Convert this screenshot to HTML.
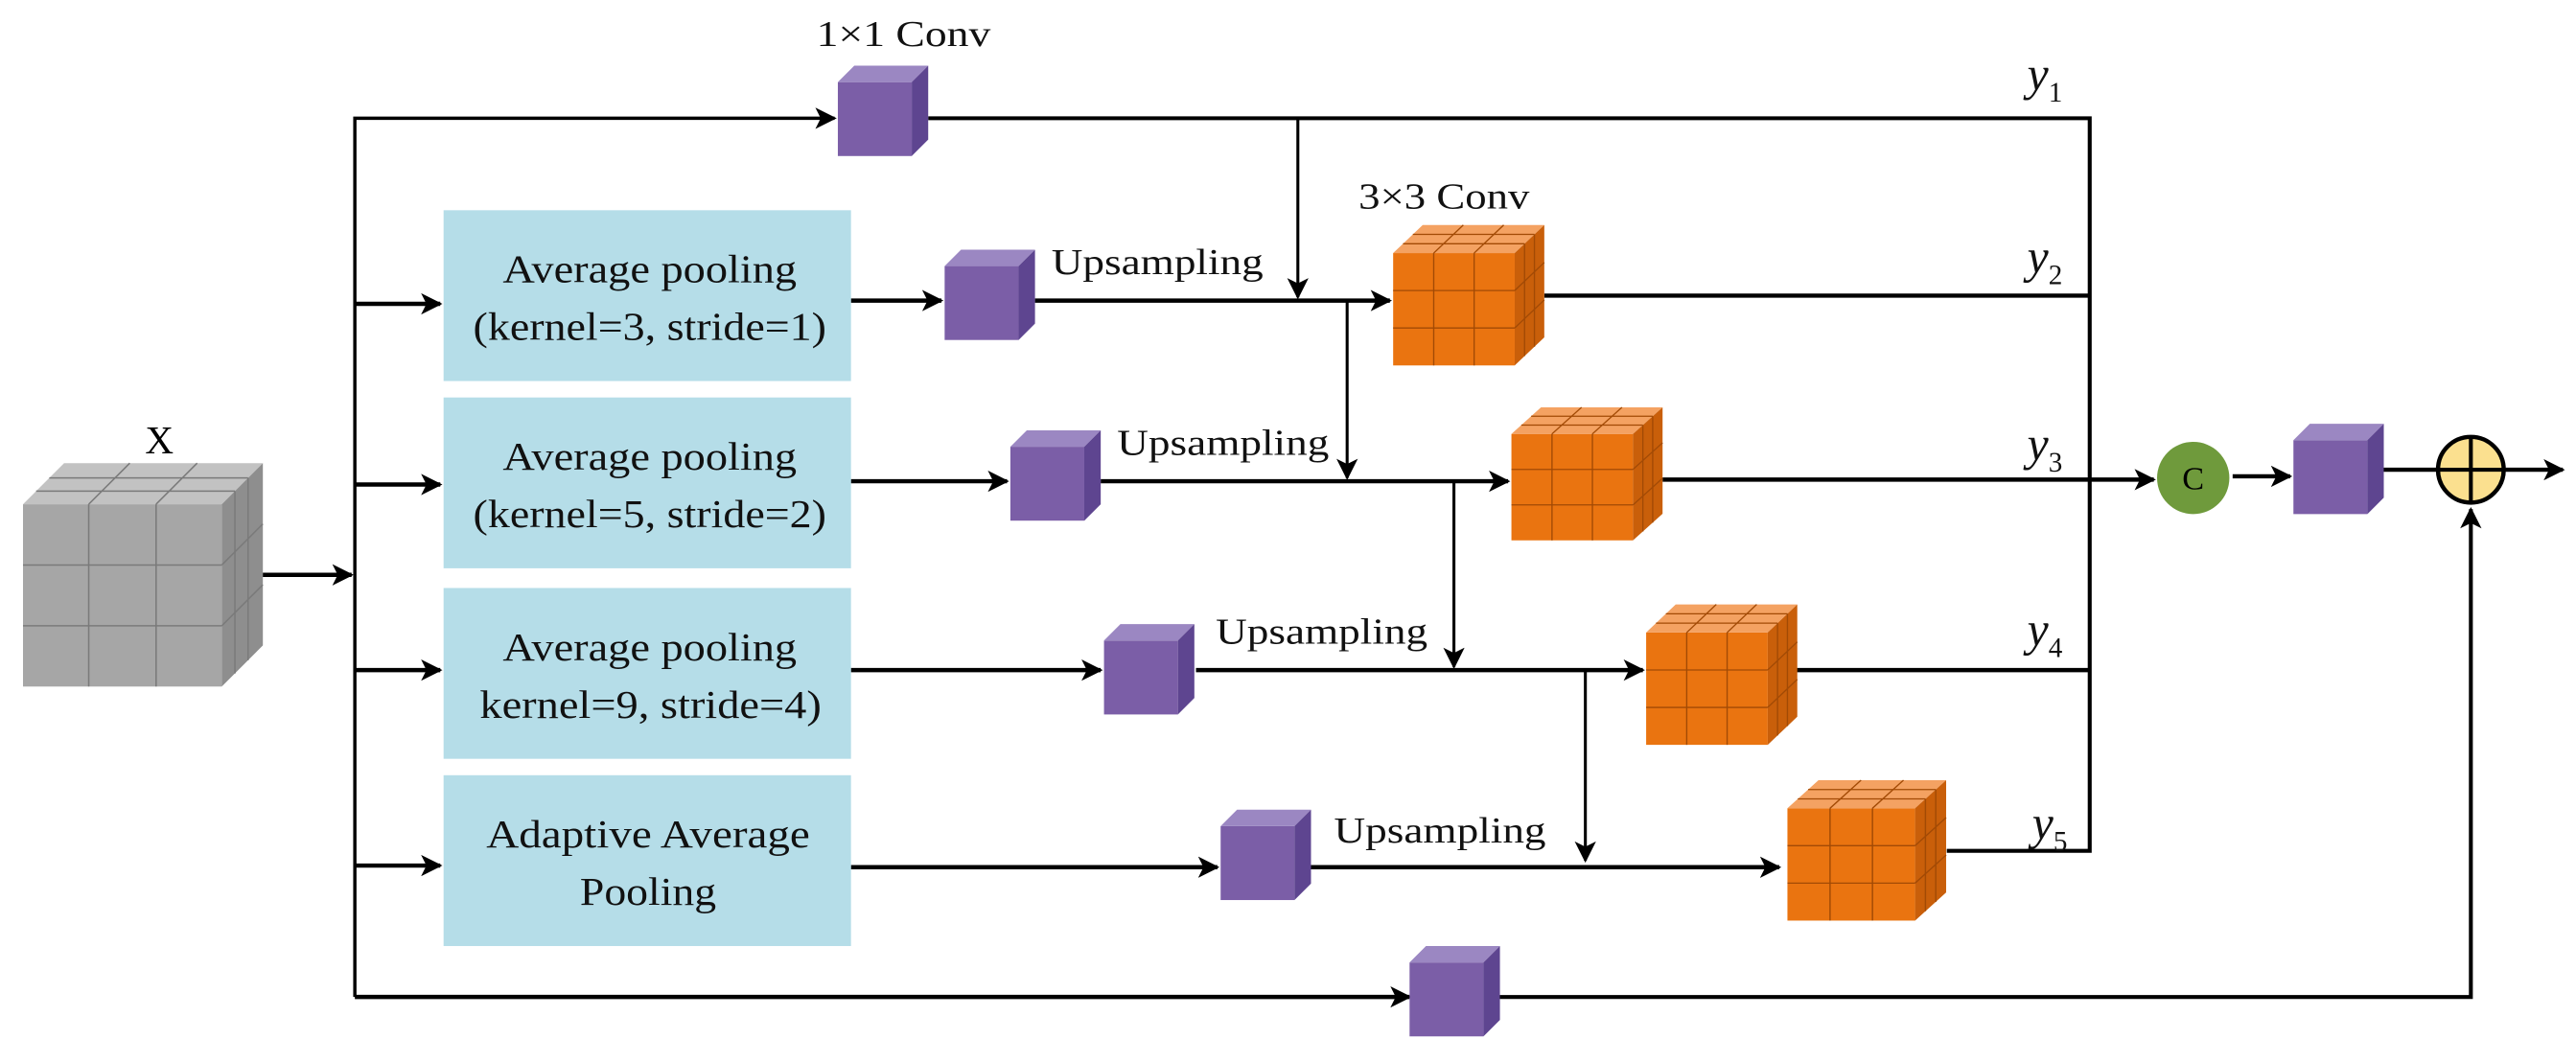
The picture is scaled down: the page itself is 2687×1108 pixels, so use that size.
<!DOCTYPE html>
<html><head><meta charset="utf-8"><style>html,body{margin:0;padding:0;background:#fff}svg{display:block}</style></head>
<body>
<svg width="2687" height="1108" viewBox="0 0 1568 646.6" preserveAspectRatio="none" xmlns="http://www.w3.org/2000/svg" font-family="Liberation Serif, serif">
<defs>
<marker id="b" viewBox="0 0 10 10" refX="9" refY="5" markerWidth="13" markerHeight="13" orient="auto" markerUnits="userSpaceOnUse"><path d="M0,0 L10,5 L0,10 L2.5,5 z" fill="#000"/></marker>
<g id="pc">
<rect x="0" y="10" width="45" height="45" fill="#7b5ea7"/>
<polygon points="0,10 10,0 55,0 45,10" fill="#9b87c2"/>
<polygon points="45,10 55,0 55,45 45,55" fill="#5e4590"/>
</g>
<g id="oc">
<rect x="0" y="18" width="74" height="72" fill="#ea7410"/>
<polygon points="0,18 18,0 92,0 74,18" fill="#f4a262"/>
<polygon points="74,18 92,0 92,72 74,90" fill="#c95f0a"/>
<g stroke="#a24a05" stroke-width="0.8" fill="none">
<line x1="24.7" y1="18" x2="24.7" y2="90"/><line x1="49.3" y1="18" x2="49.3" y2="90"/>
<line x1="0" y1="42" x2="74" y2="42"/><line x1="0" y1="66" x2="74" y2="66"/>
<line x1="6" y1="12" x2="80" y2="12"/><line x1="12" y1="6" x2="86" y2="6"/>
<line x1="24.7" y1="18" x2="42.7" y2="0"/><line x1="49.3" y1="18" x2="67.3" y2="0"/>
<line x1="80" y1="12" x2="80" y2="84"/><line x1="86" y1="6" x2="86" y2="78"/>
<line x1="74" y1="42" x2="92" y2="24"/><line x1="74" y1="66" x2="92" y2="48"/>
</g>
</g>
</defs>

<!-- X cube -->
<text x="97" y="276" font-size="24" text-anchor="middle">X</text>
<rect x="14" y="307" width="121" height="111" fill="#a6a6a6"/>
<polygon points="14,307 39,282 160,282 135,307" fill="#c2c2c2"/>
<polygon points="135,307 160,282 160,393 135,418" fill="#8e8e8e"/>
<g stroke="#7a7a7a" stroke-width="0.9" fill="none">
<line x1="54" y1="307" x2="54" y2="418"/><line x1="95" y1="307" x2="95" y2="418"/>
<line x1="14" y1="344" x2="135" y2="344"/><line x1="14" y1="381" x2="135" y2="381"/>
<line x1="22" y1="299" x2="143" y2="299"/><line x1="30" y1="291" x2="151" y2="291"/>
<line x1="54" y1="307" x2="79" y2="282"/><line x1="95" y1="307" x2="120" y2="282"/>
<line x1="143" y1="299" x2="143" y2="410"/><line x1="151" y1="291" x2="151" y2="402"/>
<line x1="135" y1="344" x2="160" y2="319"/><line x1="135" y1="381" x2="160" y2="356"/>
</g>

<g stroke="#000" fill="none">
<line x1="160" y1="350" x2="214" y2="350" stroke-width="2.6" marker-end="url(#b)"/>
<path d="M216,607 L216,72 L508,72" stroke-width="2" marker-end="url(#b)"/>
<line x1="216" y1="185" x2="268" y2="185" stroke-width="2.6" marker-end="url(#b)"/>
<line x1="216" y1="295" x2="268" y2="295" stroke-width="2.6" marker-end="url(#b)"/>
<line x1="216" y1="408" x2="268" y2="408" stroke-width="2.6" marker-end="url(#b)"/>
<line x1="216" y1="527" x2="268" y2="527" stroke-width="2.6" marker-end="url(#b)"/>
<path d="M565,72 L1272,72 L1272,518 L1185,518" stroke-width="2.4"/>
<line x1="790" y1="72" x2="790" y2="181" stroke-width="1.8" marker-end="url(#b)"/>
<line x1="518" y1="183" x2="573" y2="183" stroke-width="2.6" marker-end="url(#b)"/>
<line x1="630" y1="183" x2="846" y2="183" stroke-width="2.6" marker-end="url(#b)"/>
<line x1="940" y1="180" x2="1272" y2="180" stroke-width="2.6"/>
<line x1="820" y1="183" x2="820" y2="291" stroke-width="1.8" marker-end="url(#b)"/>
<line x1="518" y1="293" x2="613" y2="293" stroke-width="2.6" marker-end="url(#b)"/>
<line x1="670" y1="293" x2="918" y2="293" stroke-width="2.6" marker-end="url(#b)"/>
<line x1="1012" y1="292" x2="1311" y2="292" stroke-width="2.6" marker-end="url(#b)"/>
<line x1="885" y1="293" x2="885" y2="406" stroke-width="1.8" marker-end="url(#b)"/>
<line x1="518" y1="408" x2="670" y2="408" stroke-width="2.6" marker-end="url(#b)"/>
<line x1="728" y1="408" x2="1000" y2="408" stroke-width="2.6" marker-end="url(#b)"/>
<line x1="1093" y1="408" x2="1272" y2="408" stroke-width="2.6"/>
<line x1="965" y1="408" x2="965" y2="524" stroke-width="1.8" marker-end="url(#b)"/>
<line x1="518" y1="528" x2="741" y2="528" stroke-width="2.6" marker-end="url(#b)"/>
<line x1="798" y1="528" x2="1083" y2="528" stroke-width="2.6" marker-end="url(#b)"/>
<line x1="216" y1="607" x2="858" y2="607" stroke-width="2.6" marker-end="url(#b)"/>
<path d="M912,607 L1504,607 L1504,310" stroke-width="2.4" marker-end="url(#b)"/>
<line x1="1359" y1="290" x2="1394" y2="290" stroke-width="2.6" marker-end="url(#b)"/>
<line x1="1449" y1="286" x2="1483" y2="286" stroke-width="2.6"/>
<line x1="1525" y1="286" x2="1560" y2="286" stroke-width="2.6" marker-end="url(#b)"/>
</g>

<g fill="#b5dde8">
<rect x="270" y="128" width="248" height="104"/>
<rect x="270" y="242" width="248" height="104"/>
<rect x="270" y="358" width="248" height="104"/>
<rect x="270" y="472" width="248" height="104"/>
</g>
<g font-size="24" fill="#111" lengthAdjust="spacingAndGlyphs">
<text x="306" y="172" textLength="179" lengthAdjust="spacingAndGlyphs">Average pooling</text>
<text x="288" y="207" textLength="215" lengthAdjust="spacingAndGlyphs">(kernel=3, stride=1)</text>
<text x="306" y="286" textLength="179" lengthAdjust="spacingAndGlyphs">Average pooling</text>
<text x="288" y="321" textLength="215" lengthAdjust="spacingAndGlyphs">(kernel=5, stride=2)</text>
<text x="306" y="402" textLength="179" lengthAdjust="spacingAndGlyphs">Average pooling</text>
<text x="292" y="437" textLength="208" lengthAdjust="spacingAndGlyphs">kernel=9, stride=4)</text>
<text x="296" y="516" textLength="197" lengthAdjust="spacingAndGlyphs">Adaptive Average</text>
<text x="353" y="551" textLength="83" lengthAdjust="spacingAndGlyphs">Pooling</text>
</g>

<use href="#pc" transform="translate(510,40)"/>
<use href="#pc" transform="translate(575,152)"/>
<use href="#pc" transform="translate(615,262)"/>
<use href="#pc" transform="translate(672,380)"/>
<use href="#pc" transform="translate(743,493)"/>
<use href="#pc" transform="translate(858,576)"/>
<use href="#pc" transform="translate(1396,258)"/>

<use href="#oc" transform="translate(848,137) scale(1,0.95)"/>
<use href="#oc" transform="translate(920,248) scale(1,0.9)"/>
<use href="#oc" transform="translate(1002,368) scale(1,0.95)"/>
<use href="#oc" transform="translate(1088,475) scale(1.05,0.95)"/>

<circle cx="1335" cy="291" r="22" fill="#6f9a3c"/>
<text x="1335" y="298" font-size="20" text-anchor="middle">C</text>
<circle cx="1504" cy="286" r="20" fill="#fbe08f" stroke="#000" stroke-width="2.6"/>
<line x1="1484" y1="286" x2="1524" y2="286" stroke="#000" stroke-width="2.4"/>
<line x1="1504" y1="266" x2="1504" y2="306" stroke="#000" stroke-width="2.4"/>

<g font-size="22" fill="#111">
<text x="497" y="28" textLength="106" lengthAdjust="spacingAndGlyphs">1×1 Conv</text>
<text x="827" y="127" textLength="104" lengthAdjust="spacingAndGlyphs">3×3 Conv</text>
<text x="640" y="167" textLength="129" lengthAdjust="spacingAndGlyphs">Upsampling</text>
<text x="680" y="277" textLength="129" lengthAdjust="spacingAndGlyphs">Upsampling</text>
<text x="740" y="392" textLength="129" lengthAdjust="spacingAndGlyphs">Upsampling</text>
<text x="812" y="513" textLength="129" lengthAdjust="spacingAndGlyphs">Upsampling</text>
</g>
<g font-size="29" font-style="italic" fill="#111">
<text x="1234" y="55">y<tspan font-size="17" font-style="normal" dy="7">1</tspan></text>
<text x="1234" y="166">y<tspan font-size="17" font-style="normal" dy="7">2</tspan></text>
<text x="1234" y="280">y<tspan font-size="17" font-style="normal" dy="7">3</tspan></text>
<text x="1234" y="393">y<tspan font-size="17" font-style="normal" dy="7">4</tspan></text>
<text x="1237" y="511">y<tspan font-size="17" font-style="normal" dy="7">5</tspan></text>
</g>
</svg>
</body></html>
